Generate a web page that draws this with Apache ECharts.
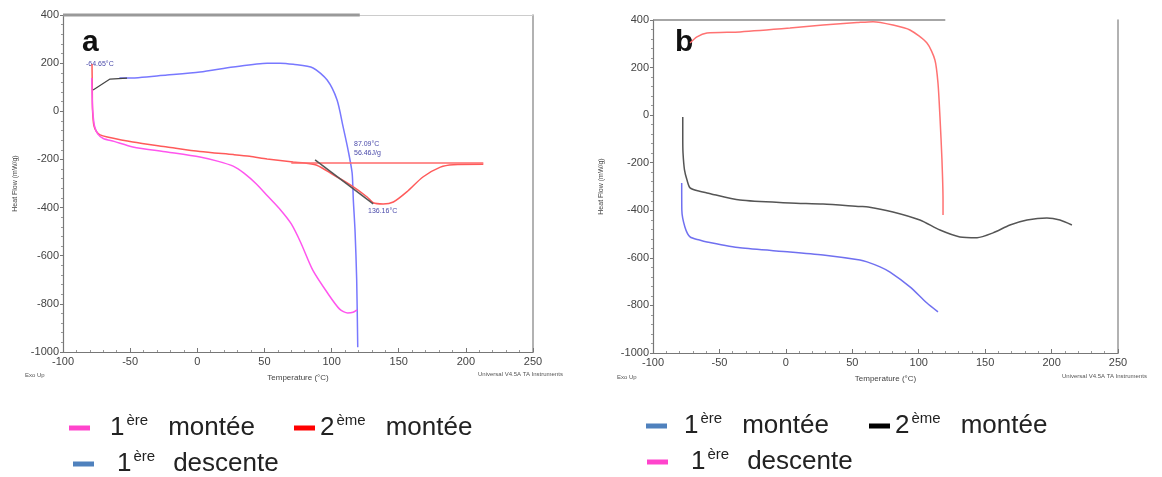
<!DOCTYPE html>
<html>
<head>
<meta charset="utf-8">
<script src="https://cdn.jsdelivr.net/npm/echarts@6/dist/echarts.min.js"></script>
<style>
  html, body { margin: 0; padding: 0; background: #fff; }
  #chart { width: 1162px; height: 477px; }
</style>
</head>
<body>
<div id="chart"></div>
<script>
// ---------- DATA ----------
const xTicks = [-100, -50, 0, 50, 100, 150, 200, 250];
const yTicks = [-1000, -800, -600, -400, -200, 0, 200, 400];
const seriesNames = ['1ère montée', '2ème montée', '1ère descente'];

// Panel a
const a_montee1 = [[-78.6,138],[-78.3,60],[-77.9,5],[-76.6,-60],[-74,-95],[-70,-113],[-62,-125],[-48,-148],[-22.5,-169],[2,-190],[15,-207],[26.7,-228],[35,-258],[44,-302],[52,-350],[62,-410],[70,-468],[77,-545],[86,-660],[97,-755],[106,-822],[112,-838],[116,-835],[119,-825]];
const a_montee2 = [[-78.4,196],[-78.2,100],[-78,5],[-77,-60],[-75,-85],[-72.4,-98],[-67,-107],[-48,-128],[-22.5,-148],[2,-167],[27,-180],[39,-187],[52,-198],[71.4,-211],[80,-215],[89,-224],[101,-263],[114,-306],[126.5,-356],[131,-380],[138.4,-385],[146,-377],[156,-335],[168,-273],[181,-232],[190.6,-222],[213,-220]];
const a_descente1 = [[119.5,-980],[118.7,-700],[117.5,-500],[116.2,-368],[115.3,-256],[112.3,-161],[108.6,-65],[104.1,47],[96.7,130],[86.2,180],[71.4,195],[61.6,200],[52,200],[26.7,184],[2,163],[-22.5,151],[-52.3,138],[-58,138]];
const a_tangentTg = [[-77.6,88],[-65,134],[-52.3,138]];
const a_tangentMelt = [[87.7,-202],[131,-385]];
const a_baseline = [[70,-215],[213,-215]];
const a_topFrame = [[-100,400],[121,400]];

// Panel b
const b_montee1 = [[-78.4,-285],[-78.3,-399],[-76,-470],[-72.1,-512],[-65,-525],[-59.4,-533],[-34.5,-558],[3.1,-575],[28,-588],[55.8,-609],[61.1,-617],[70.9,-638],[78.4,-660],[93.4,-722],[106.2,-790],[114.5,-827]];
const b_montee2 = [[-77.6,-8],[-77.6,-100],[-77.4,-159],[-76.3,-230],[-74.4,-273],[-72.1,-306],[-65,-320],[-59.4,-327],[-34.5,-357],[3.1,-369],[28,-374],[55.8,-384],[62,-386],[80.6,-407],[100.9,-441],[116,-483],[131,-512],[143.9,-515],[155.9,-495],[168.7,-462],[181.5,-441],[196.5,-432],[206.3,-441],[215.3,-462]];
const b_descente1 = [[-72.1,303],[-66.9,329],[-59.4,345],[-34.5,350],[3.1,366],[28,379],[53.6,389],[65.6,393],[80.6,379],[93.4,358],[106.2,303],[112.2,232],[114.5,135],[116,-8],[117.5,-189],[118.3,-357],[118.3,-420]];
const b_topFrame = [[-100,400],[120,400]];

// Legend pieces
const legSup = ['ère', 'ème', 'ère'];
const legNum = ['1', '2', '1'];
const legWord = ['montée', 'montée', 'descente'];

// ---------- STYLES ----------
const colA = ['#ff55ee', '#ff5a5a', '#7878ff'];
const colB = ['#7070f0', '#555555', '#ff7272'];
const legColA = ['#ff44cc', '#ff0000', '#4f81bd'];
const legColB = ['#4f81bd', '#000000', '#ff44cc'];

const chart = echarts.init(document.getElementById('chart'), null, { renderer: 'canvas' });

function xAxisMain(gi) {
  return {
    type: 'value', gridIndex: gi, min: -100, max: 250, interval: 50,
    axisLine: { show: true, onZero: false, lineStyle: { color: '#777', width: 1.2 } },
    axisTick: { show: true, inside: true, length: 4, lineStyle: { color: '#777' } },
    minorTick: { show: true, splitNumber: 5, length: 2, lineStyle: { color: '#999' } },
    axisLabel: { fontSize: 11, color: '#444', margin: 4, fontFamily: 'Liberation Sans', formatter: v => String(v) },
    splitLine: { show: false },
    name: 'Temperature (°C)', nameLocation: 'middle', nameGap: 22,
    nameTextStyle: { fontSize: 8, color: '#444', fontFamily: 'Liberation Sans' }
  };
}
function yAxisMain(gi, gap) {
  return {
    type: 'value', gridIndex: gi, min: -1000, max: 400, interval: 200,
    axisLine: { show: true, onZero: false, lineStyle: { color: '#777', width: 1.2 } },
    axisTick: { show: true, length: 3, lineStyle: { color: '#777' } },
    minorTick: { show: true, splitNumber: 5, length: 2, lineStyle: { color: '#999' } },
    axisLabel: { fontSize: 11, color: '#444', margin: 4, fontFamily: 'Liberation Sans', formatter: v => String(v) },
    splitLine: { show: false },
    name: 'Heat Flow (mW/g)', nameLocation: 'middle', nameGap: gap, nameRotate: 90,
    nameTextStyle: { fontSize: 7, color: '#444', fontFamily: 'Liberation Sans' }
  };
}
function frameAxis(gi, pos, color, width, isX) {
  const o = {
    type: 'value', gridIndex: gi, position: pos,
    axisLine: { show: true, onZero: false, lineStyle: { color: color, width: width } },
    axisTick: { show: false }, axisLabel: { show: false }, splitLine: { show: false }
  };
  if (isX) { o.min = -100; o.max = 250; } else { o.min = -1000; o.max = 400; }
  return o;
}

function curve(name, data, xi, yi, color, width, z) {
  return {
    type: 'line', name: name, data: data, xAxisIndex: xi, yAxisIndex: yi,
    showSymbol: false, symbol: 'none', smooth: 0.25, clip: false,
    lineStyle: { color: color, width: width }, itemStyle: { color: color },
    z: z || 2, silent: true
  };
}

const rich = {
  n: { fontSize: 26, lineHeight: 30, color: '#222', fontFamily: 'Liberation Sans' },
  s: { fontSize: 15, lineHeight: 15, verticalAlign: 'top', color: '#222', fontFamily: 'Liberation Sans', padding: [0, 0, 0, 2] },
  w: { width: 20, fontSize: 26, lineHeight: 30 },
  w2: { width: 18, fontSize: 26, lineHeight: 30 },
  g0: { width: 0, fontSize: 10 },
  g15: { width: 12, fontSize: 10 },
  g18: { width: 15, fontSize: 10 },
  g22: { width: 18, fontSize: 10 }
};

function legendItem(idx, color, left, top, padKey, wKey) {
  return {
    left: left, top: top, orient: 'horizontal',
    icon: 'rect', itemWidth: 21, itemHeight: 5, itemGap: 0,
    selectedMode: false,
    data: [{ name: seriesNames[idx], itemStyle: { color: color } }],
    textStyle: { rich: rich },
    formatter: function () {
      return '{' + padKey + '| }{n|' + legNum[idx] + '}{s|' + legSup[idx] + '}{' + wKey + '| }{n|' + legWord[idx] + '}';
    }
  };
}

const option = {
  animation: false,
  backgroundColor: '#ffffff',
  grid: [
    { left: 63, top: 15, width: 470, height: 337, show: false },
    { left: 653, top: 20, width: 465, height: 333, show: false }
  ],
  xAxis: [
    xAxisMain(0),
    frameAxis(0, 'top', '#cccccc', 1, true),
    xAxisMain(1)
  ],
  yAxis: [
    yAxisMain(0, 44),
    frameAxis(0, 'right', '#999999', 1.5, false),
    yAxisMain(1, 48),
    frameAxis(1, 'right', '#999999', 1.5, false)
  ],
  legend: [
    legendItem(0, legColA[0], 64, 408, 'g18', 'w'),
    legendItem(1, legColA[1], 289, 408, 'g0', 'w'),
    legendItem(2, legColA[2], 68, 444, 'g22', 'w2'),
    legendItem(0, legColB[0], 641, 406, 'g15', 'w'),
    legendItem(1, legColB[1], 864, 406, 'g0', 'w'),
    legendItem(2, legColB[2], 642, 442, 'g22', 'w2')
  ],
  series: [
    // panel a
    { type: 'line', name: 'frameA', data: a_topFrame, xAxisIndex: 0, yAxisIndex: 0, symbol: 'none', clip: false,
      lineStyle: { color: '#999', width: 3 }, silent: true, z: 1 },
    curve(seriesNames[1], a_montee2, 0, 0, colA[1], 1.5, 3),
    curve(seriesNames[0], a_montee1, 0, 0, colA[0], 1.5, 4),
    curve(seriesNames[2], a_descente1, 0, 0, colA[2], 1.5, 2),
    { type: 'line', name: 'baselineA', data: a_baseline, xAxisIndex: 0, yAxisIndex: 0, symbol: 'none', clip: false,
      lineStyle: { color: '#ff6a6a', width: 1.5 }, silent: true, z: 3 },
    { type: 'line', name: 'tgA', data: a_tangentTg, xAxisIndex: 0, yAxisIndex: 0, symbol: 'none', clip: false,
      lineStyle: { color: '#444', width: 1.2 }, silent: true, z: 5 },
    { type: 'line', name: 'meltA', data: a_tangentMelt, xAxisIndex: 0, yAxisIndex: 0, symbol: 'none', clip: false,
      lineStyle: { color: '#555', width: 1.5 }, silent: true, z: 5 },
    // panel b
    { type: 'line', name: 'frameB', data: b_topFrame, xAxisIndex: 2, yAxisIndex: 2, symbol: 'none', clip: false,
      lineStyle: { color: '#888', width: 1.5 }, silent: true, z: 1 },
    curve(seriesNames[0], b_montee1, 2, 2, colB[0], 1.5, 2),
    curve(seriesNames[1], b_montee2, 2, 2, colB[1], 1.5, 2),
    curve(seriesNames[2], b_descente1, 2, 2, colB[2], 1.5, 2)
  ],
  graphic: [
    { type: 'text', left: 82, top: 28, style: { text: 'a', fontSize: 30, fontWeight: 'bold', fill: '#111', fontFamily: 'Liberation Sans' } },
    { type: 'text', left: 675, top: 28, style: { text: 'b', fontSize: 30, fontWeight: 'bold', fill: '#111', fontFamily: 'Liberation Sans' } },
    { type: 'text', left: 25, top: 372, style: { text: 'Exo Up', fontSize: 6, fill: '#555', fontFamily: 'Liberation Sans' } },
    { type: 'text', left: 478, top: 371, style: { text: 'Universal V4.5A TA Instruments', fontSize: 6, fill: '#555', fontFamily: 'Liberation Sans' } },
    { type: 'text', left: 617, top: 374, style: { text: 'Exo Up', fontSize: 6, fill: '#555', fontFamily: 'Liberation Sans' } },
    { type: 'text', left: 1062, top: 373, style: { text: 'Universal V4.5A TA Instruments', fontSize: 6, fill: '#555', fontFamily: 'Liberation Sans' } },
    { type: 'text', left: 86, top: 61, style: { text: '-64.65°C', fontSize: 7, fill: '#4a4aaa', fontFamily: 'Liberation Sans' } },
    { type: 'text', left: 354, top: 141, style: { text: '87.09°C', fontSize: 7, fill: '#4a4aaa', fontFamily: 'Liberation Sans' } },
    { type: 'text', left: 354, top: 150, style: { text: '56.46J/g', fontSize: 7, fill: '#4a4aaa', fontFamily: 'Liberation Sans' } },
    { type: 'text', left: 368, top: 208, style: { text: '136.16°C', fontSize: 7, fill: '#4a4aaa', fontFamily: 'Liberation Sans' } }
  ]
};
chart.setOption(option);
</script>
</body>
</html>
